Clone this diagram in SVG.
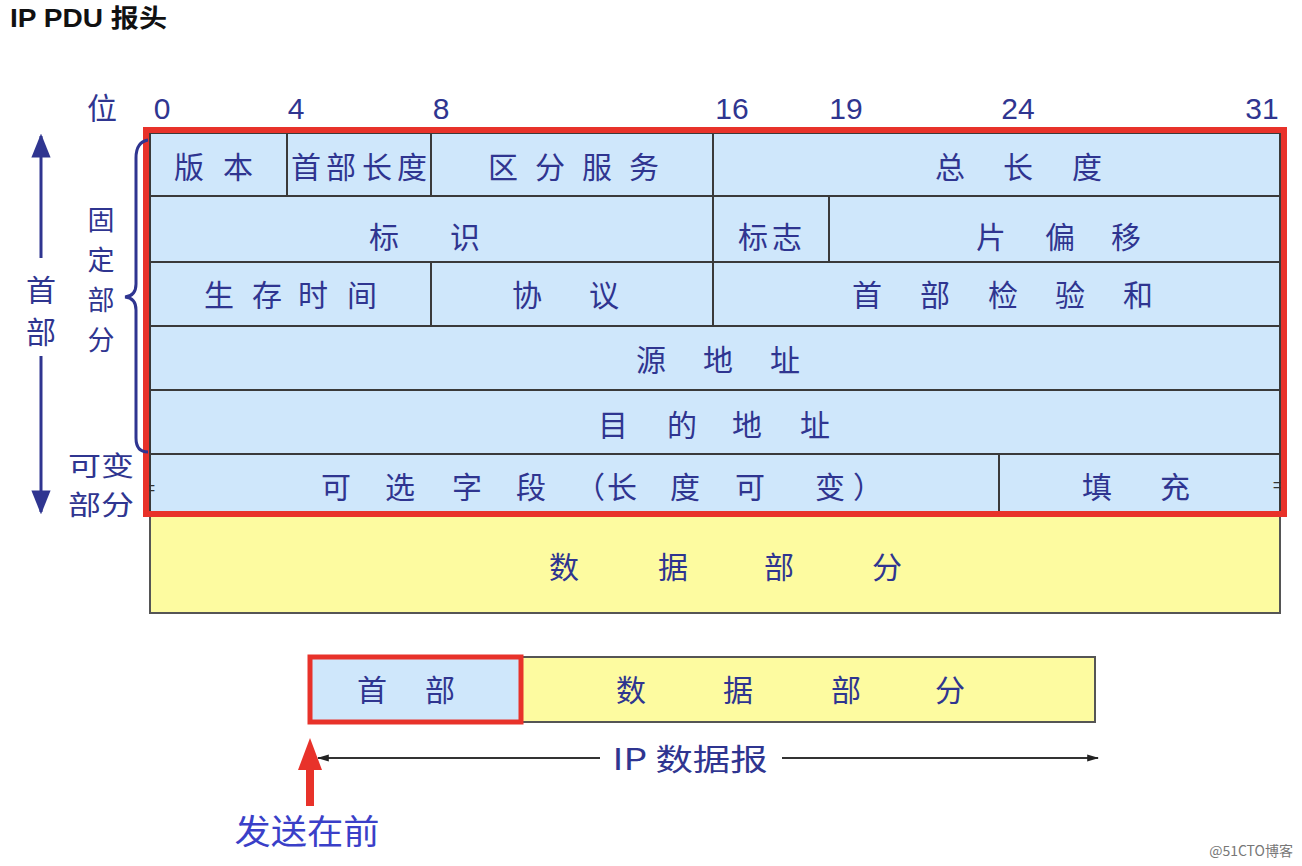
<svg xmlns="http://www.w3.org/2000/svg" width="1302" height="866" viewBox="0 0 1302 866">
<defs>
<style>
.t{font-family:"Noto Sans CJK SC","Liberation Sans",sans-serif;fill:#2f3590;font-size:30px;text-anchor:middle}
.v{font-family:"Noto Sans CJK SC","Liberation Sans",sans-serif;fill:#2f3590;font-size:27px;text-anchor:middle}
.n{font-family:"Liberation Sans",sans-serif;fill:#2f3590;font-size:30px;text-anchor:middle}
.cell{fill:#cfe7fb;stroke:#3a3a3a;stroke-width:2}
.yel{fill:#fdfba0;stroke:#555;stroke-width:2}
.g{stroke:#3a3a3a;stroke-width:2;fill:none}
.red{fill:none;stroke:#e8322a;stroke-width:6}
.nav{stroke:#2f3590;stroke-width:3;fill:none}
</style>
<marker id="ah" viewBox="0 0 10 10" refX="9" refY="5" markerWidth="8" markerHeight="8" orient="auto"><path d="M0,1 L10,5 L0,9 z" fill="#2f3590"/></marker>
<marker id="bh" viewBox="0 0 10 10" refX="9" refY="5" markerWidth="6" markerHeight="6" orient="auto"><path d="M0,2 L10,5 L0,8 z" fill="#222"/></marker>
</defs>
<rect width="1302" height="866" fill="#fff"/>
<text x="10" y="27" font-family="Liberation Sans,Noto Sans CJK SC,sans-serif" font-weight="bold" font-size="25" fill="#111" textLength="157" lengthAdjust="spacingAndGlyphs">IP PDU 报头</text>

<g id="bits">
<text class="t" x="102" y="119">位</text>
<text class="n" x="162" y="119">0</text>
<text class="n" x="296" y="119">4</text>
<text class="n" x="441" y="119">8</text>
<text class="n" x="732" y="119">16</text>
<text class="n" x="846" y="119">19</text>
<text class="n" x="1018" y="119">24</text>
<text class="n" x="1262" y="119">31</text>
</g>

<g id="header">
<rect class="cell" x="150" y="133" width="1130" height="380"/>
<line class="g" x1="150" y1="196" x2="1280" y2="196"/>
<line class="g" x1="150" y1="262" x2="1280" y2="262"/>
<line class="g" x1="150" y1="326" x2="1280" y2="326"/>
<line class="g" x1="150" y1="390" x2="1280" y2="390"/>
<line class="g" x1="150" y1="454" x2="1280" y2="454"/>
<line class="g" x1="287" y1="133" x2="287" y2="196"/>
<line class="g" x1="431" y1="133" x2="431" y2="196"/>
<line class="g" x1="713" y1="133" x2="713" y2="326"/>
<line class="g" x1="829" y1="196" x2="829" y2="262"/>
<line class="g" x1="431" y1="262" x2="431" y2="326"/>
<line class="g" x1="999" y1="454" x2="999" y2="513"/>
<text class="t" x="189 238" y="178">版本</text>
<text class="t" x="306 341 377 412" y="178">首部长度</text>
<text class="t" x="503 550 597 644" y="178">区分服务</text>
<text class="t" x="950 1018 1087" y="178">总长度</text>
<text class="t" x="384 465" y="248">标识</text>
<text class="t" x="753 787" y="248">标志</text>
<text class="t" x="991 1060 1126" y="248">片偏移</text>
<text class="t" x="219 267 313 362" y="306">生存时间</text>
<text class="t" x="527 604" y="306">协议</text>
<text class="t" x="867 935 1003 1070 1138" y="306">首部检验和</text>
<text class="t" x="651 718 785" y="371">源地址</text>
<text class="t" x="613 682 747 815" y="436">目的地址</text>
<text class="t" x="336 400 467 531 590 622 685 750 830 868" y="498">可选字段（长度可变）</text>
<text class="t" x="1097 1175" y="498">填充</text>
<text x="150" y="494" font-family="Liberation Sans,sans-serif" font-size="18" fill="#333" text-anchor="middle">=</text>
<text x="1278" y="491" font-family="Liberation Sans,sans-serif" font-size="18" fill="#333" text-anchor="middle">=</text>
</g>

<g id="data">
<rect class="yel" x="150" y="514" width="1130" height="99"/>
<text class="t" x="564 673 779 887" y="578">数据部分</text>
</g>

<rect id="headerbox" class="red" x="146" y="130" width="1138" height="384"/>

<g id="labels">
<path class="nav" d="M148,140 Q136,142 136,158 L136,284 Q136,296 125,297 Q136,298 136,310 L136,438 Q136,452 148,452" stroke-width="2"/>
<text class="v" x="101" y="230">固</text>
<text class="v" x="101" y="270">定</text>
<text class="v" x="101" y="310">部</text>
<text class="v" x="101" y="350">分</text>
<text class="v" x="101" y="476" textLength="66" lengthAdjust="spacingAndGlyphs">可变</text>
<text class="v" x="101" y="515" textLength="66" lengthAdjust="spacingAndGlyphs">部分</text>
<text class="t" x="41" y="301">首</text>
<text class="t" x="41" y="343">部</text>
<line class="nav" x1="41" y1="258" x2="41" y2="136" marker-end="url(#ah)"/>
<line class="nav" x1="41" y1="356" x2="41" y2="512" marker-end="url(#ah)"/>
</g>

<g id="datagram">
<rect class="yel" x="521" y="657" width="574" height="65"/>
<rect class="cell" x="310" y="657" width="211" height="65" stroke="none"/>
<rect x="310" y="657" width="211" height="65" fill="none" stroke="#e8322a" stroke-width="5"/>
<text class="t" x="372 440" y="701">首部</text>
<text class="t" x="631 738 846 950" y="701">数据部分</text>
</g>

<g id="connectors">
<line x1="600" y1="758" x2="318" y2="758" stroke="#333" stroke-width="2" marker-end="url(#bh)"/>
<line x1="782" y1="758" x2="1098" y2="758" stroke="#333" stroke-width="2" marker-end="url(#bh)"/>
<path d="M310,738 L322,770 L314,770 L314,806 L306,806 L306,770 L298,770 z" fill="#e8322a"/>
</g>
<text class="t" x="690" y="770" textLength="155" lengthAdjust="spacingAndGlyphs">IP 数据报</text>
<text class="t" x="307" y="844" style="fill:#3a3fc8;font-size:34px" textLength="145" lengthAdjust="spacingAndGlyphs">发送在前</text>
<text x="1293" y="856" font-family="Noto Sans CJK SC,Liberation Sans,sans-serif" font-size="14" fill="#777" text-anchor="end">@51CTO博客</text>
</svg>
